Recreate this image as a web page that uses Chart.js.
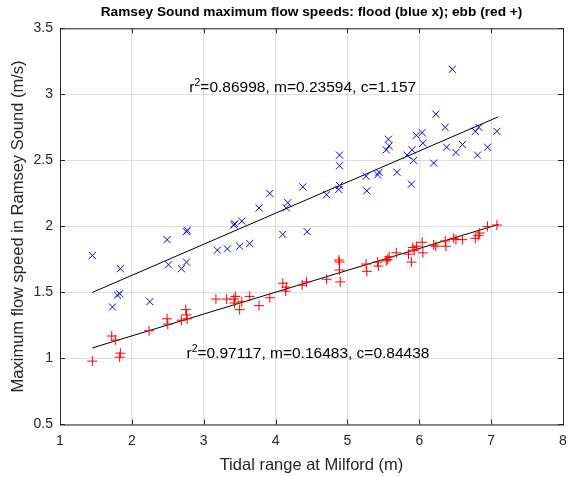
<!DOCTYPE html>
<html>
<head>
<meta charset="utf-8">
<script src="https://cdn.jsdelivr.net/npm/chart.js@4/dist/chart.umd.min.js"></script>
<style>
  html, body { margin: 0; padding: 0; background: #fff; }
  #wrap { width: 576px; height: 477px; }
</style>
</head>
<body>
<div id="wrap"><canvas id="chart__canvas" width="576" height="477"></canvas></div>
<script>
// flood (blue x)
const floodX = [1.45, 1.84, 1.80, 1.83, 1.73, 2.25, 2.49, 2.51, 2.69, 2.76, 2.76, 2.77,
    3.19, 3.33, 3.50, 3.64, 3.42, 3.43, 3.53, 3.77, 3.92, 4.10, 4.15, 4.17, 4.38, 4.44,
    4.71, 4.88, 4.89, 4.89, 4.89, 5.26, 5.27, 5.42, 5.44, 5.54, 5.57, 5.58, 5.69, 5.83,
    5.89, 5.90, 5.92, 5.96, 6.04, 6.05, 6.20, 6.23, 6.36, 6.38, 6.46, 6.51, 6.60, 6.78,
    6.83, 6.81, 6.95, 7.08];
const floodY = [1.78, 1.68, 1.48, 1.49, 1.39, 1.43, 1.90, 1.71, 1.68, 1.73, 1.96, 1.97,
    1.82, 1.83, 1.85, 1.87, 2.01, 2.02, 2.04, 2.14, 2.25, 1.94, 2.14, 2.18, 2.30, 1.96,
    2.24, 2.28, 2.31, 2.46, 2.54, 2.38, 2.27, 2.39, 2.41, 2.58, 2.66, 2.61, 2.41, 2.54,
    2.32, 2.58, 2.50, 2.69, 2.71, 2.63, 2.48, 2.85, 2.75, 2.60, 3.19, 2.56, 2.62, 2.72,
    2.75, 2.54, 2.60, 2.72];

// ebb (red +)
const ebbX = [1.45, 1.72, 1.77, 1.84, 1.83, 2.24, 2.49, 2.50, 2.69, 2.75, 2.76, 2.77,
    3.17, 3.32, 3.42, 3.43, 3.44, 3.50, 3.53, 3.64, 3.77, 3.92, 4.10, 4.14, 4.15, 4.37,
    4.43, 4.71, 4.88, 4.89, 4.89, 4.90, 5.26, 5.27, 5.42, 5.43, 5.54, 5.56, 5.58, 5.68,
    5.85, 5.89, 5.91, 5.93, 5.96, 6.04, 6.05, 6.20, 6.23, 6.36, 6.37, 6.48, 6.51, 6.60,
    6.78, 6.82, 6.84, 6.95, 7.08];
const ebbY = [0.98, 1.17, 1.14, 1.04, 1.01, 1.21, 1.30, 1.26, 1.29, 1.37, 1.33, 1.30,
    1.45, 1.45, 1.45, 1.42, 1.47, 1.37, 1.43, 1.47, 1.40, 1.46, 1.57, 1.51, 1.54, 1.555,
    1.58, 1.60, 1.745, 1.73, 1.67, 1.58, 1.715, 1.66, 1.73, 1.70, 1.74, 1.75, 1.77, 1.80,
    1.79, 1.73, 1.84, 1.82, 1.85, 1.88, 1.80, 1.86, 1.85, 1.89, 1.85, 1.91, 1.90, 1.90,
    1.91, 1.93, 1.95, 2.00, 2.01];

// fitted lines (end points)
const floodFitX = [1.45, 7.10];
const floodFitY = [1.50, 2.83];
const ebbFitX = [1.45, 7.10];
const ebbFitY = [1.08, 2.015];

// tick values
const xTicks = [1, 2, 3, 4, 5, 6, 7, 8];
const yTicks = [0.5, 1, 1.5, 2, 2.5, 3, 3.5];

// fit labels
const fitLabels = [
    { x: 2.80, y: 3.02, rest: "=0.86998, m=0.23594, c=1.157" },
    { x: 2.76, y: 1.005, rest: "=0.97117, m=0.16483, c=0.84438" },
];

const axisColor = "#262626";
const FONT = "'Liberation Sans', Arial, Helvetica, sans-serif";

function toPoints(xs, ys) {
    return xs.map((x, i) => ({ x: x, y: ys[i] }));
}

// caja tipo MATLAB con marcas hacia dentro + textos r^2
const boxPlugin = {
    id: "boxPlugin",
    afterDatasetsDraw(chart) {
        const { ctx, chartArea: a, scales } = chart;
        ctx.save();
        ctx.strokeStyle = axisColor;
        ctx.lineWidth = 1;
        ctx.strokeRect(a.left + 0.5, a.top + 0.5, a.right - a.left, a.bottom - a.top);
        ctx.beginPath();
        xTicks.forEach((v) => {
            const px = Math.round(scales.x.getPixelForValue(v)) + 0.5;
            ctx.moveTo(px, a.bottom);
            ctx.lineTo(px, a.bottom - 5);
            ctx.moveTo(px, a.top);
            ctx.lineTo(px, a.top + 5);
        });
        yTicks.forEach((v) => {
            const py = Math.round(scales.y.getPixelForValue(v)) + 0.5;
            ctx.moveTo(a.left, py);
            ctx.lineTo(a.left + 5, py);
            ctx.moveTo(a.right, py);
            ctx.lineTo(a.right - 5, py);
        });
        ctx.stroke();

        ctx.fillStyle = "#000";
        ctx.textBaseline = "alphabetic";
        ctx.textAlign = "left";
        fitLabels.forEach((t) => {
            let px = scales.x.getPixelForValue(t.x);
            const py = scales.y.getPixelForValue(t.y);
            ctx.font = "15.5px " + FONT;
            ctx.fillText("r", px, py);
            px += ctx.measureText("r").width;
            ctx.font = "10.5px " + FONT;
            ctx.fillText("2", px, py - 6);
            px += ctx.measureText("2").width;
            ctx.font = "15.5px " + FONT;
            ctx.fillText(t.rest, px, py);
        });
        ctx.restore();
    },
};

const config = {
    type: "scatter",
    data: {
        datasets: [
            {
                label: "flood",
                data: toPoints(floodX, floodY),
                pointStyle: "crossRot",
                radius: 5,
                borderColor: "rgb(0, 0, 255)",
                backgroundColor: "rgb(0, 0, 255)",
                borderWidth: 1,
            },
            {
                label: "ebb",
                data: toPoints(ebbX, ebbY),
                pointStyle: "cross",
                radius: 5,
                borderColor: "rgb(255, 0, 0)",
                backgroundColor: "rgb(255, 0, 0)",
                borderWidth: 1,
            },
            {
                label: "flood fit",
                type: "line",
                data: toPoints(floodFitX, floodFitY),
                borderColor: "#000",
                borderWidth: 1,
                pointRadius: 0,
                fill: false,
            },
            {
                label: "ebb fit",
                type: "line",
                data: toPoints(ebbFitX, ebbFitY),
                borderColor: "#000",
                borderWidth: 1,
                pointRadius: 0,
                fill: false,
            },
        ],
    },
    options: {
        responsive: false,
        animation: false,
        devicePixelRatio: 1,
        layout: { padding: { top: 0, right: 13, bottom: 0, left: 0 } },
        plugins: {
            legend: { display: false },
            tooltip: { enabled: false },
            title: {
                display: true,
                fullSize: false,
                text: "Ramsey Sound maximum flow speeds: flood (blue x); ebb (red +)",
                color: "#000",
                font: { family: FONT, size: 13.7, weight: "bold", lineHeight: 1.2 },
                padding: { top: 3.8, bottom: 8.1 },
            },
        },
        scales: {
            x: {
                type: "linear",
                min: 1,
                max: 8,
                afterBuildTicks: (s) => { s.ticks = xTicks.map((v) => ({ value: v })); },
                afterFit: (s) => { s.height = 52.5; },
                grid: { color: "rgba(38,38,38,0.15)", drawTicks: false },
                border: { display: false },
                ticks: {
                    color: axisColor, padding: 8, font: { family: FONT, size: 14 },
                    callback: (v) => String(v),
                },
                title: {
                    display: true,
                    text: "Tidal range at Milford (m)",
                    color: axisColor,
                    font: { family: FONT, size: 16.5, lineHeight: 1.2 },
                    padding: { top: 0, bottom: 1.5 },
                },
            },
            y: {
                type: "linear",
                min: 0.5,
                max: 3.5,
                afterBuildTicks: (s) => { s.ticks = yTicks.map((v) => ({ value: v })); },
                afterFit: (s) => { s.width = 60; },
                grid: { color: "rgba(38,38,38,0.15)", drawTicks: false },
                border: { display: false },
                ticks: {
                    color: axisColor, padding: 7, font: { family: FONT, size: 14 },
                    callback: (v) => String(v),
                },
                title: {
                    display: true,
                    text: "Maximum flow speed in Ramsey Sound (m/s)",
                    color: axisColor,
                    font: { family: FONT, size: 16.5, lineHeight: 1.2 },
                    padding: { top: 9, bottom: 0 },
                },
            },
        },
    },
    plugins: [boxPlugin],
};

const ctx = document.getElementById("chart__canvas").getContext("2d");
new Chart(ctx, config);
</script>
</body>
</html>
